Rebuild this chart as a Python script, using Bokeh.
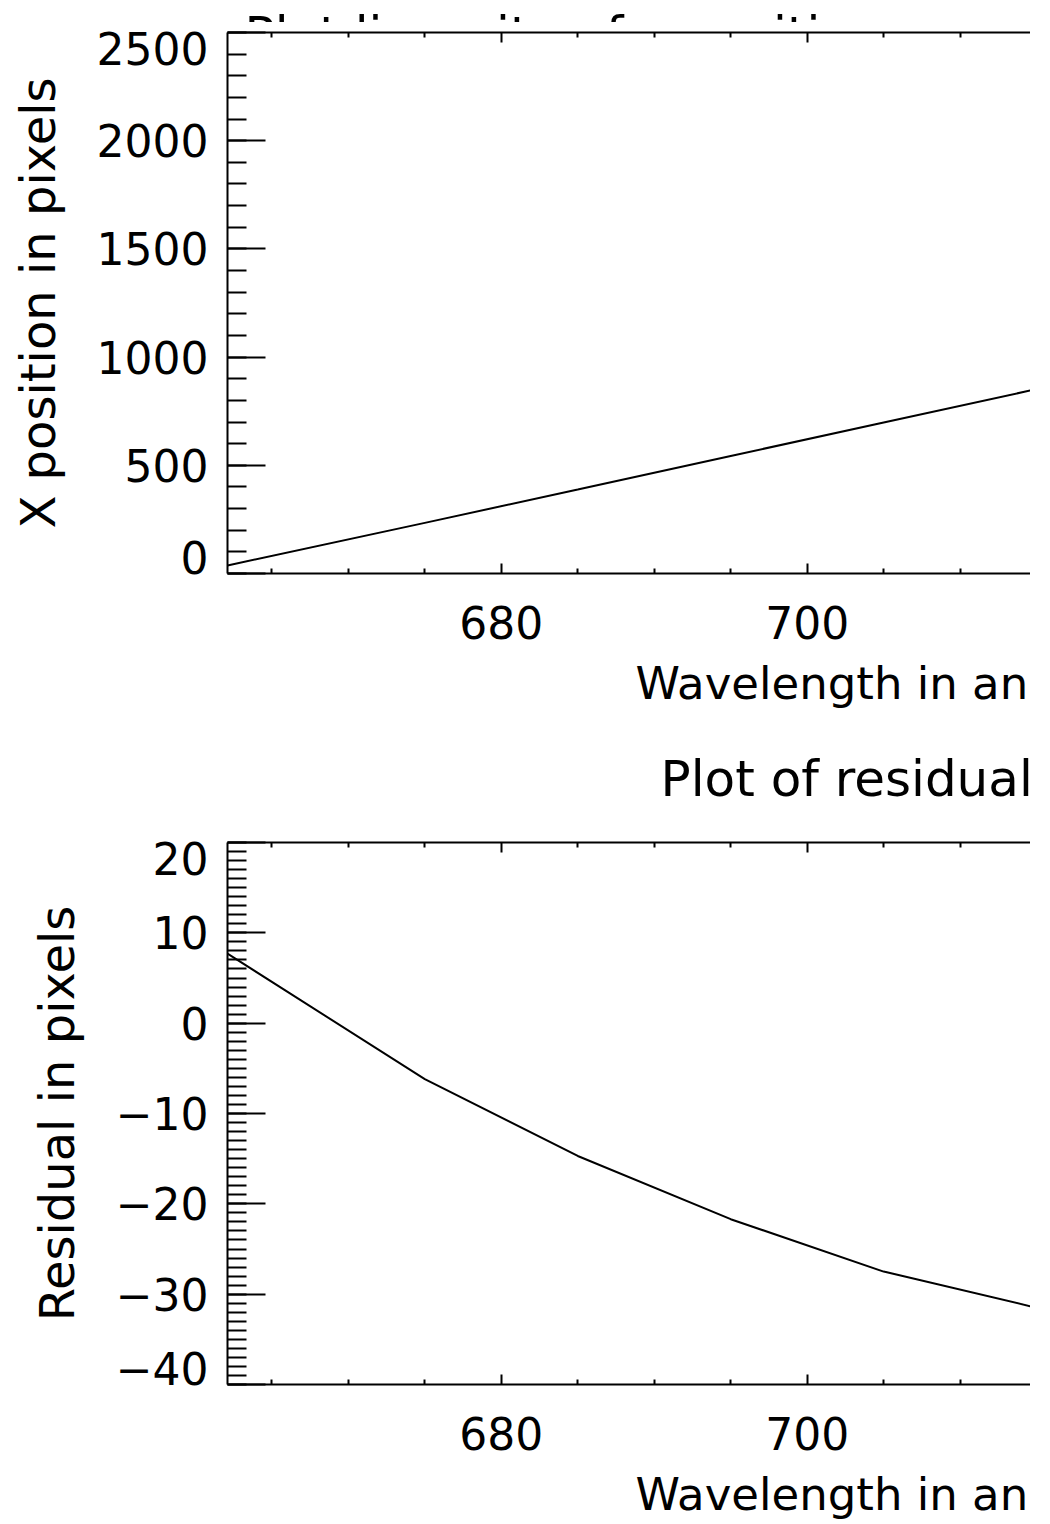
from bokeh.plotting import figure
from bokeh.models import FixedTicker, LinearAxis, Range1d
from bokeh.layouts import column
from bokeh.embed import file_html
from bokeh.resources import INLINE
from bokeh.core.properties import value

# ---------------- data ----------------
wavelength = [662.1, 675, 685, 695, 705, 715]
x_position = [37, 234, 388, 543, 698, 852]
residual = [7.7, -6.2, -14.7, -21.7, -27.5, -31.5]

x_limits = (662.1, 714.6)
pos_limits = (0, 2500)
res_limits = (-40, 20)

x_major_ticks = [660, 680, 700, 720]
x_minor_ticks = [665, 670, 675, 685, 690, 695, 705, 710, 715]
pos_major_ticks = [0, 500, 1000, 1500, 2000, 2500]
pos_minor_ticks = list(range(0, 2501, 100))
res_major_ticks = [-40, -30, -20, -10, 0, 10, 20]
res_minor_ticks = list(range(-40, 21, 1))

title_top = "Plot linearity of x positions"
title_bottom = "Plot of residuals"
x_title = "Wavelength in angstroms"
y_title_top = "X position in pixels"
y_title_bottom = "Residual in pixels"

# ---------------- style / layout constants ----------------
FONT = "DejaVu Sans"
FS_TICK = "44px"
FS_YT = "48px"
FS_XT = 45
FS_TITLE = 50
W = 1030
LEFT = 227
FRAME_H = 541
END_NUDGE_PX = 16
AX_BOTTOM = 88
BASELINE_SHIFT = 0.336   # bokeh text glyphs sit this many ems below the anchor


def minus(v):
    return str(v).replace("-", "\u2212")


def hide_labels(ax):
    ax.major_label_text_font_size = "1px"
    ax.major_label_text_color = None
    ax.major_label_standoff = 0


def style_x(ax, show_labels=True):
    ax.ticker = FixedTicker(ticks=x_major_ticks, minor_ticks=x_minor_ticks)
    ax.major_tick_in = 10
    ax.major_tick_out = 0
    ax.minor_tick_in = 5
    ax.minor_tick_out = 0
    ax.axis_line_width = 2
    ax.major_tick_line_width = 2
    ax.minor_tick_line_width = 2
    ax.major_label_text_font = FONT
    if show_labels:
        ax.major_label_text_color = "black"
        ax.major_label_text_font_size = FS_TICK
        ax.major_label_standoff = 32
    else:
        hide_labels(ax)


def make_panel(height, top, bottom, ylim, ymajor, yminor, ytitle, xs, ys):
    p = figure(width=W, height=height, output_backend="svg", toolbar_location=None,
               x_range=Range1d(*x_limits), y_range=Range1d(*ylim),
               min_border_left=LEFT, min_border_right=0,
               min_border_top=top, min_border_bottom=bottom)
    p.outline_line_color = None
    p.grid.visible = False
    p.background_fill_color = "white"
    p.border_fill_color = "white"
    style_x(p.xaxis[0])

    # y axis: tick marks only
    ya = p.yaxis[0]
    ya.ticker = FixedTicker(ticks=ymajor, minor_ticks=yminor)
    ya.major_tick_in = 38
    ya.major_tick_out = 0
    ya.minor_tick_in = 19
    ya.minor_tick_out = 0
    ya.axis_line_width = 2
    ya.major_tick_line_width = 2
    ya.minor_tick_line_width = 2
    hide_labels(ya)

    # y axis: tick labels + title (end labels nudged inside the axis span)
    lo, hi = ylim
    nudge = END_NUDGE_PX * (hi - lo) / FRAME_H
    label_ticks = [lo + nudge] + [t for t in ymajor if lo < t < hi] + [hi - nudge]
    overrides = {t: minus(t) for t in ymajor if lo < t < hi}
    overrides[lo + nudge] = minus(lo)
    overrides[hi - nudge] = minus(hi)
    yl = LinearAxis(ticker=FixedTicker(ticks=label_ticks, minor_ticks=[]))
    yl.axis_line_color = None
    yl.major_tick_line_color = None
    yl.minor_tick_line_color = None
    yl.major_tick_in = 0
    yl.major_tick_out = 0
    yl.major_label_overrides = overrides
    yl.major_label_text_font = FONT
    yl.major_label_text_font_size = FS_TICK
    yl.major_label_text_color = "black"
    yl.major_label_standoff = 19
    yl.axis_label = ytitle
    yl.axis_label_text_font = FONT
    yl.axis_label_text_font_size = FS_YT
    yl.axis_label_text_font_style = "normal"
    yl.axis_label_text_color = "black"
    yl.axis_label_standoff = 28
    p.add_layout(yl, "left")

    top_ax = LinearAxis()
    style_x(top_ax, show_labels=False)
    p.add_layout(top_ax, "above")

    p.line(xs, ys, line_color="black", line_width=2)
    return p


def strip(height):
    """A text-only band. Its frame lines up with the plots' frames; x counts page
    pixels and y counts pixels down from the band's top."""
    s = figure(width=W, height=height, output_backend="svg", toolbar_location=None,
               x_range=Range1d(LEFT, W), y_range=Range1d(height, 0),
               min_border_left=LEFT, min_border_right=0, min_border_top=0, min_border_bottom=0,
               x_axis_location=None, y_axis_location=None)
    s.outline_line_color = None
    s.grid.visible = False
    s.background_fill_color = "white"
    s.border_fill_color = "white"
    return s


def put_text(s, top, x, baseline_page, text, size, anchor_page=None):
    """Draw text so that its baseline lands on baseline_page (page pixels)."""
    target = baseline_page - BASELINE_SHIFT * size
    if anchor_page is None:
        anchor_page = target
    s.text(x=[x], y=[anchor_page - top], y_offset=target - anchor_page, text=[text],
           text_align="left", text_baseline="alphabetic",
           text_font=value(FONT), text_font_size=value(f"{size}px"), text_color="black")


# page rows (pixels from the page top)
PT_TOP, PT_H = 0, 22
P1_TOP = 22
P1_FRAME_TOP, P1_FRAME_BOTTOM = 32, 573
S1_TOP = P1_FRAME_BOTTOM + AX_BOTTOM
P2_TOP = 812
P2_FRAME_TOP, P2_FRAME_BOTTOM = 842, 1384
S2_TOP = P2_FRAME_BOTTOM + AX_BOTTOM
PAGE_H = 1524

# top title: only the upper edge of the letters shows (the band cuts it off)
pt = strip(PT_H)
put_text(pt, PT_TOP, 244, 15 + 0.729 * FS_TITLE, title_top, FS_TITLE, anchor_page=PT_H - 2)

p1 = make_panel(S1_TOP - P1_TOP, P1_FRAME_TOP - P1_TOP, AX_BOTTOM, pos_limits,
                pos_major_ticks, pos_minor_ticks, y_title_top, wavelength, x_position)

s1 = strip(P2_TOP - S1_TOP)
put_text(s1, S1_TOP, 635, 698, x_title, FS_XT)
put_text(s1, S1_TOP, 660, 795, title_bottom, FS_TITLE)

p2 = make_panel(S2_TOP - P2_TOP, P2_FRAME_TOP - P2_TOP, AX_BOTTOM, res_limits,
                res_major_ticks, res_minor_ticks, y_title_bottom, wavelength, residual)

s2 = strip(PAGE_H - S2_TOP)
put_text(s2, S2_TOP, 635, 1509, x_title, FS_XT)

layout = column(pt, p1, s1, p2, s2, spacing=0)
open("out.html", "w").write(file_html(layout, INLINE))
